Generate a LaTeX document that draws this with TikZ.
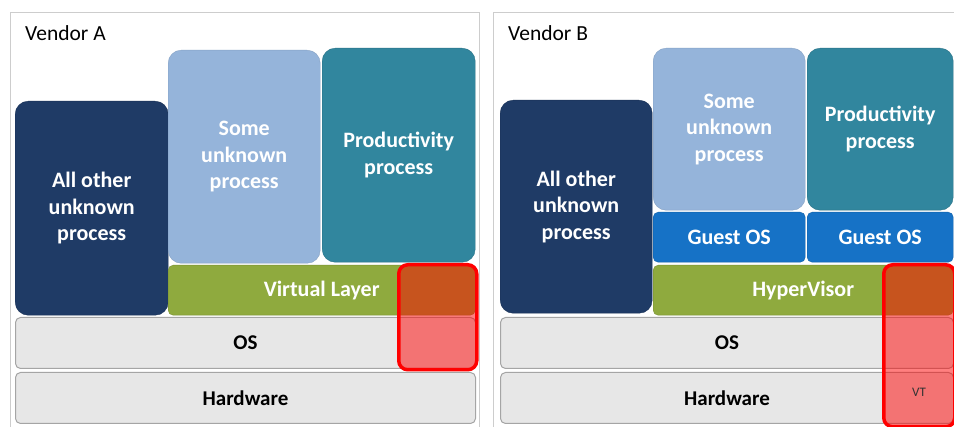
\documentclass[tikz,border=0pt]{standalone}
\usepackage{fontspec}
\setmainfont{Carlito}

\definecolor{navybox}{RGB}{31,59,102}
\definecolor{skybox}{RGB}{149,180,218}
\definecolor{tealbox}{RGB}{49,134,158}
\definecolor{layergreen}{RGB}{143,170,62}
\definecolor{guestblue}{RGB}{22,114,198}
\definecolor{barfill}{RGB}{231,231,231}
\definecolor{bardraw}{RGB}{165,165,165}
\definecolor{framedraw}{RGB}{205,205,205}

\begin{document}
\begin{tikzpicture}[x=1pt,y=-1pt,
    panel/.style={draw=framedraw,fill=white,line width=1pt,anchor=north west,inner sep=0pt},
    proc/.style={rounded corners=13pt,text=white,align=center,anchor=north west,inner sep=0pt,
        font=\fontsize{22}{26.5}\selectfont\bfseries},
    layer/.style={rounded corners=5pt,text=white,align=center,anchor=north west,inner sep=0pt,
        minimum height=50pt,font=\fontsize{22}{26.5}\selectfont\bfseries},
    bar/.style={rounded corners=5pt,fill=barfill,draw=bardraw,line width=1pt,anchor=north west,
        inner sep=0pt,minimum height=51pt,font=\fontsize{21}{24}\selectfont\bfseries},
    vtbox/.style={rounded corners=9pt,draw=red,line width=3.5pt,fill=red,fill opacity=0.5,
        anchor=north west,inner sep=0pt},
    title/.style={anchor=west,inner sep=0pt,font=\fontsize{21.5}{24}\selectfont}]

    \useasboundingbox[fill=white] (0,0) rectangle (954,427);

    % vendor A
    \node[panel,minimum width=469pt,minimum height=430pt] (frameA) at (10,12) {};
    \node[title] (vendorA) at (25,33) {Vendor A};

    \node[proc,fill=navybox,draw=navybox!85!black,minimum width=153pt,minimum height=214pt] (otherA) at (15,101) {All other\\unknown\\process};
    \node[proc,fill=skybox,draw=skybox!90!black,minimum width=152pt,minimum height=213pt] (someA) at (168,50) {Some\\unknown\\process};
    \node[proc,fill=tealbox,draw=tealbox!85!black,minimum width=153pt,minimum height=214pt] (prodA) at (322,48) {Productivity\\process};

    \node[layer,fill=layergreen,draw=layergreen!85!black,minimum width=307pt] (virtA) at (168,265) {Virtual Layer};
    \node[bar,minimum width=460pt] (osA) at (15,317) {OS};
    \node[bar,minimum width=460pt] (hwA) at (15,372) {Hardware};

    \node[vtbox,minimum width=78pt,minimum height=105pt] (vtA) at (397,263) {};

    % vendor B
    \node[panel,minimum width=470pt,minimum height=430pt] (frameB) at (493,12) {};
    \node[title] (vendorB) at (508,33) {Vendor B};

    \node[proc,fill=navybox,draw=navybox!85!black,minimum width=152pt,minimum height=213pt] (otherB) at (500,100) {All other\\unknown\\process};
    \node[proc,fill=skybox,draw=skybox!90!black,minimum width=152pt,minimum height=162pt] (someB) at (653,48) {Some\\unknown\\process};
    \node[proc,fill=tealbox,draw=tealbox!85!black,minimum width=146pt,minimum height=162pt] (prodB) at (807,48) {Productivity\\process};

    \node[layer,fill=guestblue,draw=guestblue!85!black,minimum width=152pt] (guestB1) at (653,212) {Guest OS};
    \node[layer,fill=guestblue,draw=guestblue!85!black,minimum width=146pt] (guestB2) at (807,212) {Guest OS};
    \node[layer,fill=layergreen,draw=layergreen!85!black,minimum width=300pt] (hyperB) at (653,265) {HyperVisor};
    \node[bar,minimum width=453pt] (osB) at (500,317) {OS};
    \node[bar,minimum width=453pt] (hwB) at (500,372) {Hardware};

    \node[vtbox,minimum width=71pt,minimum height=162pt] (vtB) at (882,263) {};
    \node[inner sep=0pt,font=\fontsize{13}{15}\selectfont,text=black!80] (vtlabel) at (919,392) {VT};
\end{tikzpicture}
\end{document}
